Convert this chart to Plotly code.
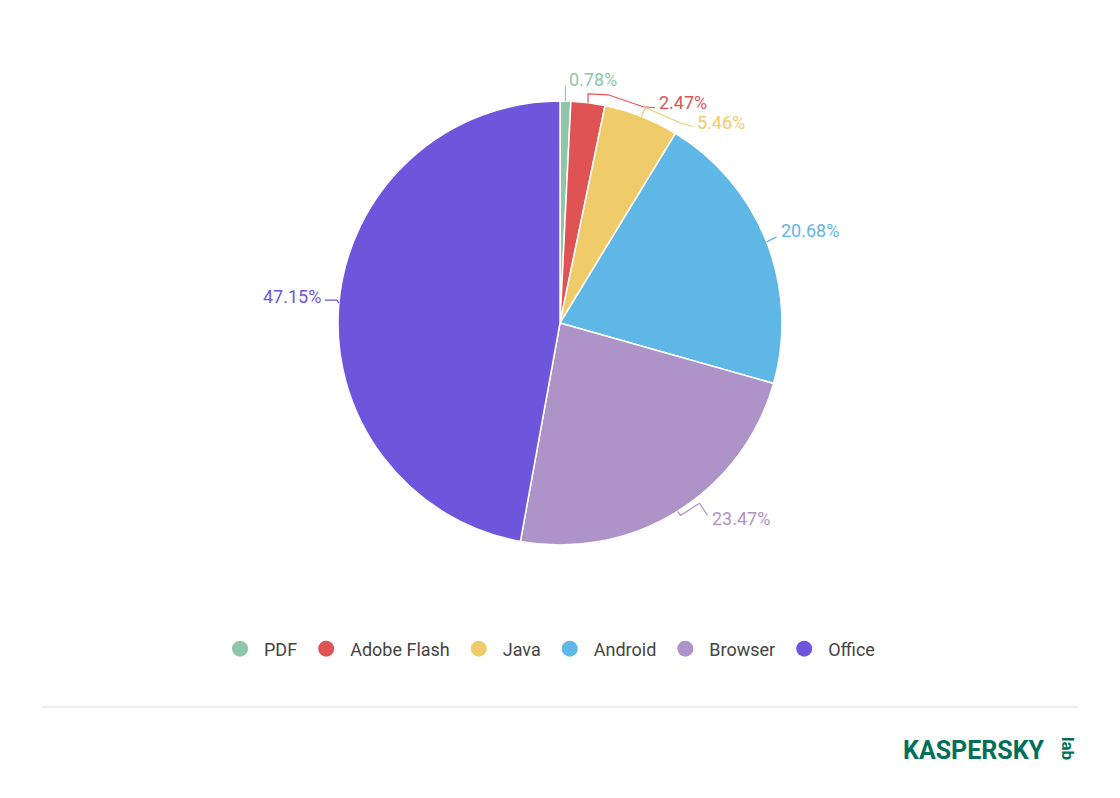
import math
import plotly.graph_objects as go

categories = ["PDF", "Adobe Flash", "Java", "Android", "Browser", "Office"]
shares = [0.78, 2.47, 5.46, 20.68, 23.47, 47.15]
colors = ["#8fc5a9", "#e05355", "#f0cb69", "#5fb7e5", "#ad93c8", "#6d55dc"]

# page has an 8px body margin; figure occupies the rest of the 1120x798 window
OFF = 8
W, H = 1120 - 2 * OFF, 798 - 2 * OFF
CX, CY, R = 560, 323, 222

# leader-line styling: bend points relative to slice edge, label offset from last point
leaders = [
    dict(pts=[(0, 0), (0, -15)], lab=(2, -7), anchor="left"),
    dict(pts=[(0, 0), (0, -9), (20, -8), (55, 4), (67, 5)], lab=(2, -5), anchor="left"),
    dict(pts=[(0, 0), (4, -9), (40, 7), (52, 10)], lab=(2, -4), anchor="left"),
    dict(pts=[(0, 0), (10, -5)], lab=(2, -6), anchor="left"),
    dict(pts=[(0, 0), (3, 4), (22, -8), (30, 4)], lab=(2, 3), anchor="left"),
    dict(pts=[(0, 0), (-2, -3), (-14, -3)], lab=(-2, -4), anchor="right"),
]


def px(x):
    return (x - OFF) / W


def py(y):
    return 1 - (y - OFF) / H


fig = go.Figure()
fig.add_trace(go.Pie(
    labels=categories, values=shares, sort=False, direction="clockwise",
    marker=dict(colors=colors, line=dict(color="white", width=1.5)),
    textinfo="none", hoverinfo="label+percent", showlegend=False,
    domain=dict(x=[px(CX - R), px(CX + R)], y=[py(CY + R), py(CY - R)]),
))

for name, col in zip(categories, colors):
    fig.add_trace(go.Scatter(x=[None], y=[None], mode="markers", name=name,
                             marker=dict(color=col, size=20, symbol="circle")))

total = sum(shares)
cum = 0
for i, (v, col) in enumerate(zip(shares, colors)):
    mid = (cum + v / 2) / total * 2 * math.pi
    cum += v
    ex, ey = CX + R * math.sin(mid), CY - R * math.cos(mid)
    st = leaders[i]
    pts = [(ex + dx, ey + dy) for dx, dy in st["pts"]]
    path = "M " + " L ".join(f"{px(x)} {py(y)}" for x, y in pts)
    fig.add_shape(type="path", path=path, xref="paper", yref="paper",
                  line=dict(color=col, width=1.2))
    lx, ly = pts[-1][0] + st["lab"][0], pts[-1][1] + st["lab"][1]
    fig.add_annotation(x=px(lx), y=py(ly), xref="paper", yref="paper",
                       text=f"{v:.2f}%", showarrow=False, xanchor=st["anchor"],
                       yanchor="middle", font=dict(color=col, size=18, family="Roboto"))

fig.add_shape(type="line", xref="paper", yref="paper", x0=px(42), x1=px(1078),
              y0=py(707), y1=py(707), line=dict(color="#dddddd", width=1))

fig.add_annotation(x=px(1047), y=py(750), xref="paper", yref="paper", text="<b>KASPERSKY</b>",
                   showarrow=False, xanchor="right", yanchor="middle",
                   font=dict(color="#00705a", size=25, family="Roboto"))
fig.add_annotation(x=px(1068), y=py(748), xref="paper", yref="paper", text="<b>lab</b>",
                   showarrow=False, xanchor="center", yanchor="middle", textangle=90,
                   font=dict(color="#00705a", size=17, family="Roboto"))

fig.update_layout(
    width=W, height=H, margin=dict(l=0, r=0, t=0, b=0),
    paper_bgcolor="white", plot_bgcolor="white",
    xaxis=dict(visible=False), yaxis=dict(visible=False),
    legend=dict(orientation="h", x=px(548), xanchor="center", y=py(649), yanchor="middle",
                font=dict(size=18, color="#444444", family="Roboto"), itemwidth=38),
    font=dict(family="Roboto"),
)

fig.write_html("out.html")
